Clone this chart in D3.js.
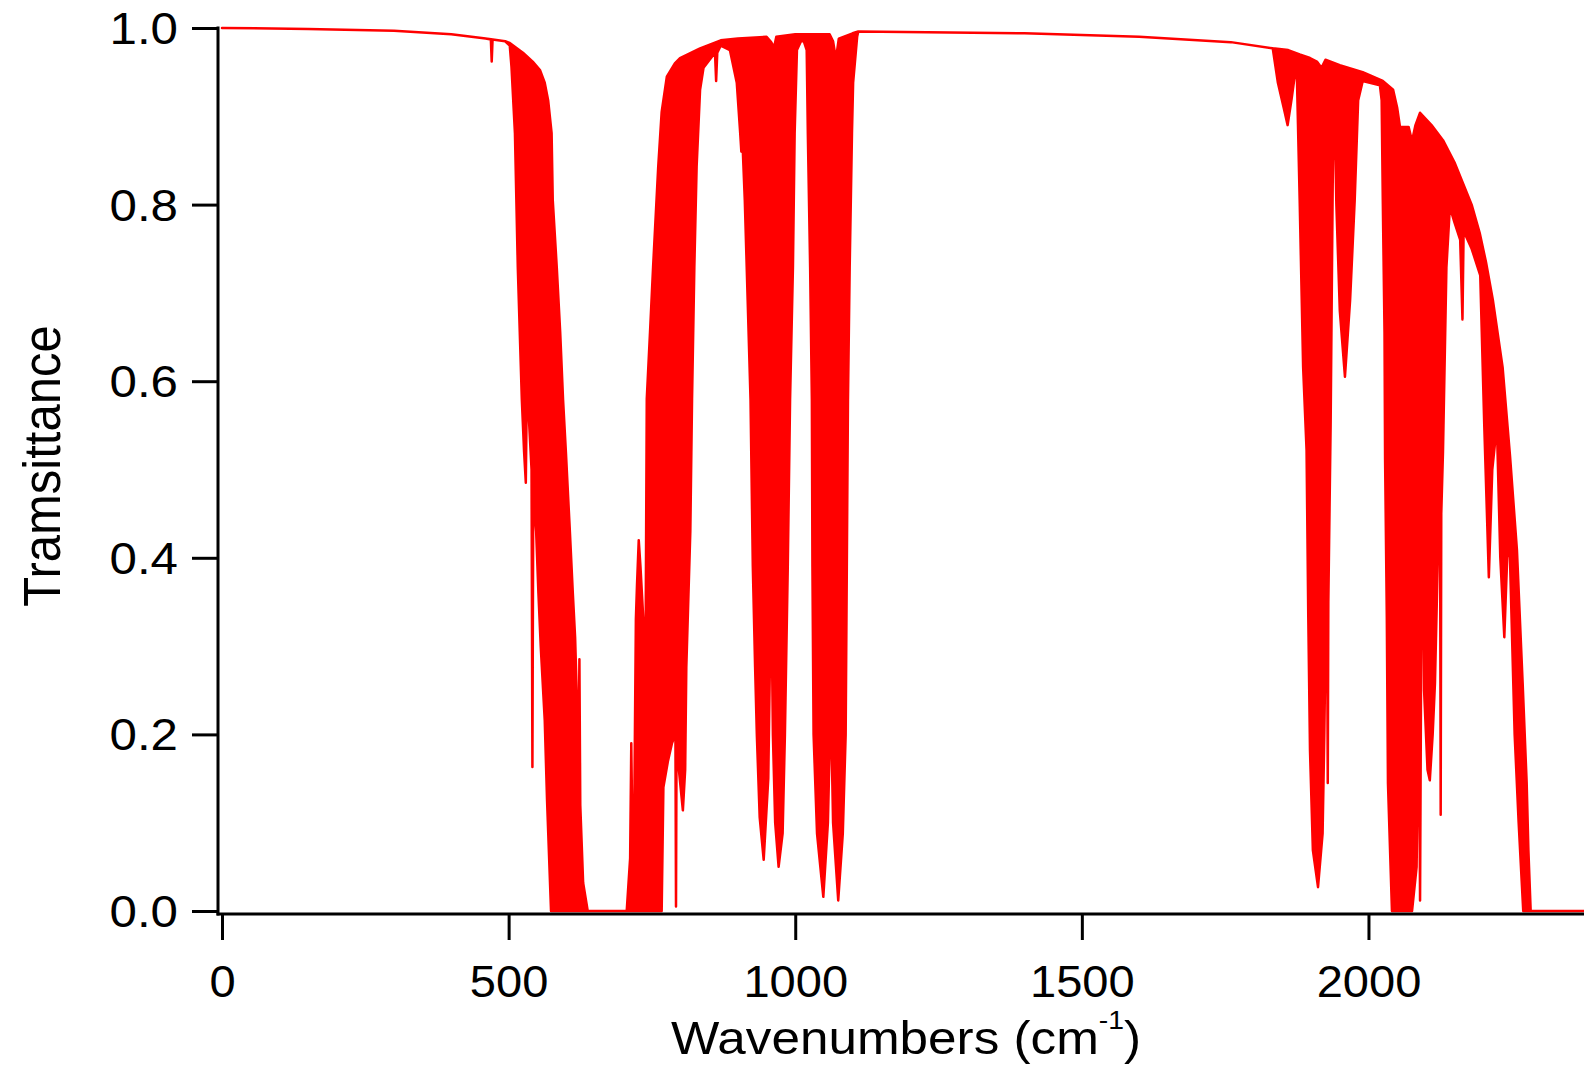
<!DOCTYPE html>
<html>
<head>
<meta charset="utf-8">
<script src="https://cdn.jsdelivr.net/npm/d3@7"></script>
<style>
  body { margin: 0; background: #fff; }
  text { font-family: "Liberation Sans", Arial, sans-serif; fill: #000; }
</style>
</head>
<body>
<svg id="chart" width="1584" height="1072"></svg>
<script>
// the trace is so dense that it shows as a filled band:
// upper edge = transmittance between lines, lower edge = line cores
// [wavenumber (cm-1), transmittance]
var upperEdge = [
  [0, 1.0], [150, 0.999], [300, 0.997], [400, 0.993], [460, 0.988], [494, 0.985],
  [502, 0.983], [525, 0.972], [542, 0.962], [555, 0.952], [563, 0.938], [569, 0.918],
  [575, 0.881], [577, 0.805], [584, 0.729], [590, 0.655], [595, 0.579], [600, 0.519],
  [607, 0.428], [612, 0.36], [616, 0.31], [620, 0.22], [622, 0.17], [623.5, 0.285],
  [625, 0.12], [630, 0.032], [638, 0], [706, 0], [712, 0.06], [714, 0.19], [716, 0.08],
  [719, 0.1], [722, 0.33], [724, 0.37], [727, 0.42], [730, 0.39], [735, 0.33], [739, 0.31],
  [741, 0.58], [747, 0.66], [752, 0.729], [761, 0.843], [767, 0.905], [776, 0.945],
  [790, 0.96], [799, 0.966], [834, 0.977], [870, 0.986], [900, 0.988], [950, 0.99],
  [958, 0.984], [963, 0.978], [967, 0.99], [1000, 0.993], [1060, 0.993], [1066, 0.985],
  [1071, 0.965], [1076, 0.988], [1100, 0.994], [1110, 0.996], [1400, 0.994], [1600, 0.99],
  [1760, 0.984], [1833, 0.977], [1860, 0.975], [1880, 0.97], [1898, 0.966], [1910, 0.962],
  [1918, 0.955], [1925, 0.964], [1950, 0.958], [1990, 0.95], [2025, 0.94], [2043, 0.93],
  [2050, 0.91], [2055, 0.888], [2070, 0.888], [2076, 0.872], [2082, 0.89], [2090, 0.904],
  [2110, 0.89], [2130, 0.873], [2150, 0.848], [2165, 0.824], [2180, 0.8], [2194, 0.768],
  [2205, 0.735], [2217, 0.692], [2234, 0.616], [2247, 0.515], [2259, 0.409], [2269, 0.258],
  [2276, 0.145], [2279, 0.069], [2283, 0], [2376, 0]
];

var lowerEdge = [
  [0, 1.0], [150, 0.999], [300, 0.997], [400, 0.993], [460, 0.988], [469, 0.987],
  [470.5, 0.962], [472, 0.987], [494, 0.985], [502, 0.98], [505, 0.956], [511, 0.881],
  [516, 0.729], [523, 0.58], [527, 0.52], [530, 0.485], [532, 0.6], [536, 0.55], [540, 0.5],
  [541.5, 0.163], [543, 0.47], [548, 0.43], [552, 0.36], [556, 0.3], [563, 0.216],
  [567, 0.126], [574, 0], [767, 0], [770, 0.14], [778, 0.17], [785, 0.19], [791, 0.2],
  [792, 0.005], [793, 0.2], [797, 0.16], [804, 0.114], [808, 0.16], [810, 0.276],
  [817, 0.43], [820, 0.58], [824, 0.729], [828, 0.843], [834, 0.93], [840, 0.955],
  [860, 0.972], [862, 0.94], [864, 0.972], [870, 0.98], [886, 0.975], [898, 0.938],
  [904, 0.881], [906, 0.86], [908, 0.87], [912, 0.805], [917, 0.692], [922, 0.579],
  [926, 0.39], [930, 0.276], [933, 0.2], [938, 0.106], [945, 0.058], [953, 0.15],
  [958, 0.378], [961, 0.2], [965, 0.1], [971, 0.05], [978, 0.088], [982, 0.2], [987, 0.39],
  [991, 0.579], [996, 0.729], [999, 0.881], [1003, 0.975], [1010, 0.985], [1015, 0.985],
  [1020, 0.975], [1022, 0.88], [1026, 0.729], [1029, 0.579], [1030, 0.39], [1032, 0.2],
  [1038, 0.088], [1049, 0.016], [1057, 0.1], [1062, 0.24], [1066, 0.1], [1075, 0.012],
  [1083, 0.088], [1088, 0.2], [1090, 0.39], [1092, 0.579], [1095, 0.729], [1099, 0.881],
  [1101, 0.938], [1108, 0.99], [1110, 0.996], [1400, 0.994], [1600, 0.99], [1760, 0.984],
  [1833, 0.977], [1842, 0.938], [1852, 0.91], [1859, 0.89], [1866, 0.92], [1872, 0.949],
  [1875, 0.949], [1880, 0.805], [1886, 0.616], [1892, 0.522], [1895, 0.333], [1898, 0.182],
  [1903, 0.069], [1912, 0.027], [1920, 0.088], [1923, 0.2], [1926, 0.35], [1928, 0.3],
  [1929, 0.145], [1930, 0.35], [1934, 0.55], [1938, 0.85], [1941, 0.9], [1944, 0.8],
  [1950, 0.68], [1959, 0.605], [1968, 0.692], [1976, 0.805], [1982, 0.918], [1990, 0.94],
  [2020, 0.935], [2023, 0.918], [2025, 0.805], [2028, 0.655], [2029, 0.511], [2032, 0.333],
  [2034, 0.145], [2041, 0], [2076, 0], [2084, 0.05], [2088, 0.25], [2090, 0.012],
  [2092, 0.3], [2095, 0.394], [2097, 0.25], [2103, 0.16], [2107, 0.148], [2112, 0.2],
  [2116, 0.258], [2121, 0.4], [2125, 0.42], [2126, 0.109], [2127, 0.45], [2130, 0.52],
  [2136, 0.729], [2142, 0.797], [2150, 0.78], [2160, 0.76], [2164, 0.67], [2166, 0.77],
  [2180, 0.75], [2195, 0.72], [2202, 0.55], [2210, 0.378], [2216, 0.5], [2224, 0.55],
  [2230, 0.4], [2237, 0.31], [2242, 0.4], [2246, 0.42], [2255, 0.2], [2262, 0.1],
  [2270, 0], [2376, 0]
];

var xTicks = [0, 500, 1000, 1500, 2000];
var yTicks = [0, 0.2, 0.4, 0.6, 0.8, 1.0];

var width = 1584, height = 1072;
// text in the original is drawn a little wide
var xStretch = 1.07, yStretch = 1.12, titleStretch = 1.09;

var x = d3.scaleLinear().domain([0, 2376]).range([222, 1584]);
var y = d3.scaleLinear().domain([0, 1]).range([911, 28]);

var svg = d3.select('#chart');
svg.append('rect').attr('width', width).attr('height', height).attr('fill', '#fff');

// trace, drawn as the outline upper -> lower (reversed)
var line = d3.line()
    .x(function(d) { return x(d[0]); })
    .y(function(d) { return y(d[1]); });

var outline = upperEdge.concat(lowerEdge.slice().reverse());

svg.append('path')
    .attr('d', line(outline) + 'Z')
    .attr('fill', '#ff0000')
    .attr('stroke', '#ff0000')
    .attr('stroke-width', 2.5)
    .attr('stroke-linejoin', 'round');

// axes (Igor style, x axis sits a few px under y=0)
var axisX = 218, axisY = 914;

var yAxis = d3.axisLeft(y)
    .tickValues(yTicks)
    .tickFormat(d3.format('.1f'))
    .tickSize(26)
    .tickSizeOuter(0);

var gy = svg.append('g')
    .attr('transform', 'translate(' + axisX + ',0)')
    .call(yAxis);
gy.select('.domain').remove();
gy.selectAll('.tick line').attr('stroke', '#000').attr('stroke-width', 3);
gy.selectAll('.tick text')
    .attr('x', 0)
    .attr('dy', '0.35em')
    .attr('font-size', 44)
    .attr('text-anchor', 'end')
    .attr('transform', 'translate(-40,0) scale(' + yStretch + ',1)');

var xAxis = d3.axisBottom(x)
    .tickValues(xTicks)
    .tickFormat(d3.format('d'))
    .tickSize(26)
    .tickSizeOuter(0);

var gx = svg.append('g')
    .attr('transform', 'translate(0,' + axisY + ')')
    .call(xAxis);
gx.select('.domain').remove();
gx.selectAll('.tick line').attr('stroke', '#000').attr('stroke-width', 3);
gx.selectAll('.tick text')
    .attr('y', 0)
    .attr('dy', 0)
    .attr('font-size', 44)
    .attr('text-anchor', 'middle')
    .attr('transform', 'translate(0,83) scale(' + xStretch + ',1)');

// axis lines
svg.append('line')
    .attr('x1', axisX).attr('x2', axisX)
    .attr('y1', y(1) - 1.5).attr('y2', axisY + 1.5)
    .attr('stroke', '#000').attr('stroke-width', 3);
svg.append('line')
    .attr('x1', axisX - 1.5).attr('x2', width)
    .attr('y1', axisY).attr('y2', axisY)
    .attr('stroke', '#000').attr('stroke-width', 3);

// axis titles
var xTitle = svg.append('text')
    .attr('text-anchor', 'middle')
    .attr('font-size', 47)
    .attr('transform', 'translate(906,1054) scale(' + titleStretch + ',1)');
xTitle.append('tspan').text('Wavenumbers (cm');
xTitle.append('tspan').attr('font-size', 26).attr('dy', -25).text('-1');
xTitle.append('tspan').attr('dy', 25).text(')');

svg.append('text')
    .attr('text-anchor', 'middle')
    .attr('font-size', 49)
    .attr('transform', 'translate(60,466) rotate(-90) scale(1,' + xStretch + ')')
    .text('Tramsittance');
</script>
</body>
</html>
